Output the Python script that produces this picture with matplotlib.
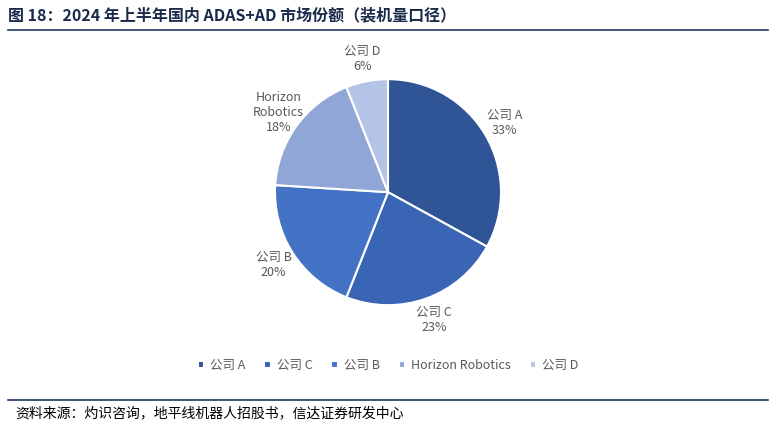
import matplotlib
matplotlib.use("Agg")
import matplotlib.pyplot as plt

plt.rcParams['font.family'] = ['Noto Sans CJK SC', 'DejaVu Sans']

labels = ['公司 A', '公司 C', '公司 B', 'Horizon Robotics', '公司 D']
label_text = ['公司 A\n33%', '公司 C\n23%', '公司 B\n20%', 'Horizon\nRobotics\n18%', '公司 D\n6%']
values = [33, 23, 20, 18, 6]
colors = ['#2F5597', '#3A64B4', '#4472C4', '#8FA6D6', '#B4C3E6']

fig = plt.figure(figsize=(7.76, 4.28), dpi=100)
ax = fig.add_axes([0.5 - 0.1825, 0.221, 0.365, 0.66])
wedges, texts = ax.pie(values, colors=colors, startangle=90, counterclock=False,
                       labels=label_text, labeldistance=1.2,
                       wedgeprops=dict(edgecolor='white', linewidth=1.5),
                       textprops=dict(fontsize=9, color='#595959', ha='center'))
for t in texts:
    t.set_horizontalalignment('center')
ax.set_aspect('equal')

fig.legend(wedges, labels, loc='lower center', bbox_to_anchor=(0.5, 0.105), ncol=5,
           frameon=False, fontsize=9, handlelength=0.5, handleheight=0.5,
           columnspacing=1.5, handletextpad=0.5, labelcolor='#595959')

fig.text(0.01, 0.965, '图 18：2024 年上半年国内 ADAS+AD 市场份额（装机量口径）',
         fontsize=11.5, fontweight='bold', color='#1a2a4a', va='center')
fig.add_artist(plt.Line2D([0.01, 0.99], [0.93, 0.93], color='#1F3864', lw=1.2))
fig.add_artist(plt.Line2D([0.01, 0.99], [0.065, 0.065], color='#1F3864', lw=1.2))
fig.text(0.02, 0.035, '资料来源：灼识咨询，地平线机器人招股书，信达证券研发中心',
         fontsize=10, style='italic', color='black', va='center')

fig.savefig('out.png', dpi=100)
